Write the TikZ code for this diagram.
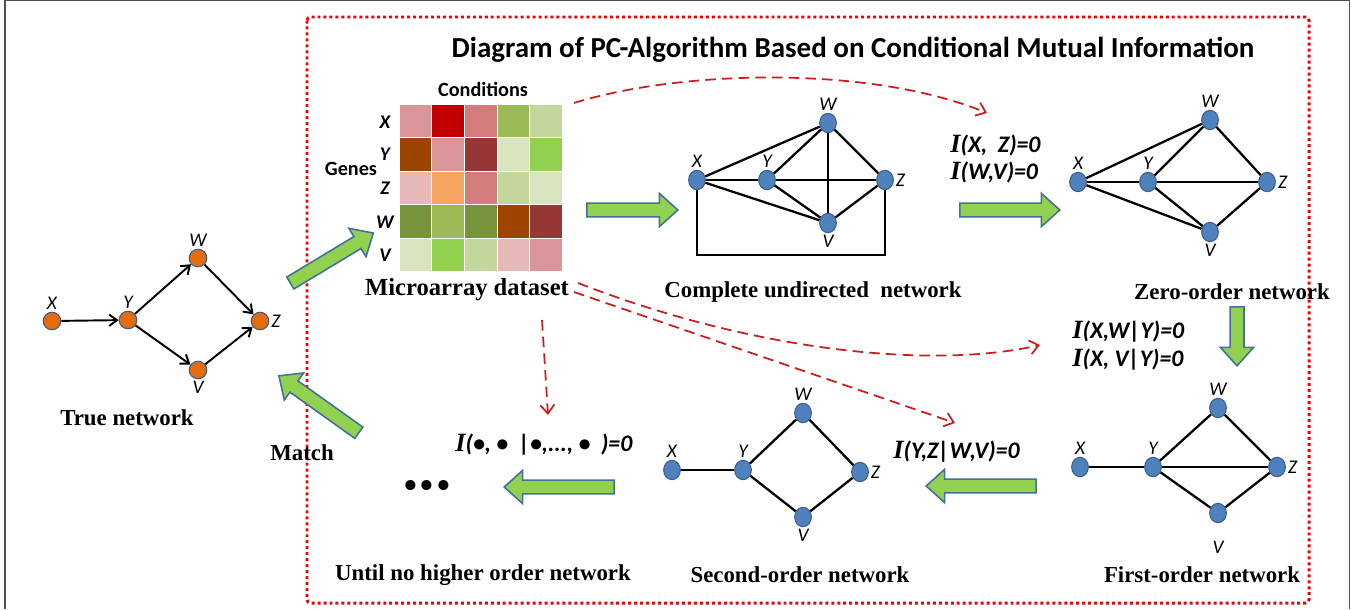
\documentclass[tikz,border=0pt]{standalone}
\usepackage{fontspec}
\setmainfont{Liberation Serif}
\newfontfamily\calibri{Carlito}
\usetikzlibrary{graphs}
\usetikzlibrary{calc}
\usetikzlibrary{arrows.meta}
\usetikzlibrary{shapes.geometric}
\usetikzlibrary{shapes.arrows}
\definecolor{nodeblue}{HTML}{4F81BD}
\definecolor{nodeline}{HTML}{3A5F8C}
\definecolor{nodeorange}{HTML}{E46C0A}
\definecolor{gfill}{HTML}{92D050}
\definecolor{gline}{HTML}{41719C}
\definecolor{dashred}{HTML}{C81E1E}
\definecolor{framered}{HTML}{F00000}
\definecolor{framegray}{HTML}{505050}
\definecolor{hmpink}{HTML}{D9959A}
\definecolor{hmred}{HTML}{C00000}
\definecolor{hmrose}{HTML}{D27C7C}
\definecolor{hmolive}{HTML}{9BBB59}
\definecolor{hmlgreen}{HTML}{C3D69B}
\definecolor{hmbrown}{HTML}{9C4400}
\definecolor{hmdred}{HTML}{953735}
\definecolor{hmvlgreen}{HTML}{D7E4BD}
\definecolor{hmgreen}{HTML}{92D050}
\definecolor{hmlpink}{HTML}{E6B9B8}
\definecolor{hmorange}{HTML}{F4A460}
\definecolor{hmdgreen}{HTML}{77933C}
\newcommand{\tI}{{\rmfamily\bfseries\itshape\fontsize{15}{16}\selectfont I}}
\tikzset{
  gnode/.style= {draw=nodeline, fill=nodeblue, ellipse, inner sep=0, minimum width=9.5pt, minimum height=11pt, line width=0.6pt},
  onode/.style= {draw=nodeline, fill=nodeorange, circle, inner sep=0, minimum size=10pt, line width=0.6pt},
  lab/.style= {font=\calibri\itshape\fontsize{11}{13}\selectfont, inner sep=1pt},
  hlab/.style= {font=\calibri\bfseries\itshape\fontsize{11}{13}\selectfont, inner sep=0},
  hhead/.style= {font=\calibri\bfseries\fontsize{11.5}{13}\selectfont, inner sep=0},
  netcap/.style= {font=\bfseries\fontsize{13}{15}\selectfont, inner sep=0},
  ci/.style= {font=\calibri\bfseries\itshape\fontsize{13.5}{16}\selectfont, inner sep=0, anchor=west},
  diagtitle/.style= {font=\calibri\bfseries\fontsize{16.5}{19}\selectfont, inner sep=0},
  netedge/.style= {line width=1.3pt, black},
  diredge/.style= {line width=1.1pt, black, >={Straight Barb[length=4.5pt,width=6.5pt]}},
  garrow/.style= {single arrow, draw=gline, fill=gfill, line width=0.9pt, inner sep=0, inner ysep=3.5pt, single arrow head extend=5.5pt, single arrow tip angle=84, anchor=center},
  redarrow/.style= {dashred, line width=1pt, dash pattern=on 6pt off 3.5pt, -{Straight Barb[length=5pt,width=8pt]}},
  redframe/.style= {framered, line width=1.7pt, dash pattern=on 1.7pt off 1.7pt, rounded corners=2pt},
  outerframe/.style= {framegray, line width=0.9pt},
}
\begin{document}
\begin{tikzpicture}[x=0.02cm, y=-0.02cm]
  \useasboundingbox (0,0) rectangle (1354,609);
  \draw [outerframe] (5,609) -- (5,0.5) -- (1349.5,0.5) -- (1349.5,609);
  \draw [redframe] (307,17) rectangle (1309,603);
  \node [diagtitle] (title) at (853,50) {Diagram of PC-Algorithm Based on Conditional Mutual Information};

  \node [onode, label={[lab]above:X}] (tX) at (52,321) {};
  \node [onode, label={[lab]above:Y}] (tY) at (128,320) {};
  \node [onode, label={[lab]above:W}] (tW) at (198,258) {};
  \node [onode, label={[lab]right:Z}] (tZ) at (260,321) {};
  \node [onode, label={[lab]below:V}] (tV) at (198,370) {};
  \graph [edges=diredge] {
    (tX) -> (tY) -> (tW) -> (tZ) ;
    (tY) -> (tV) -> (tZ) ;
  } ;
  \node [netcap] (tcap) at (127,418) {True network};
  \node [netcap] (match) at (302,453) {Match};

  \foreach \row [count=\r from 0] in {{hmpink,hmred,hmrose,hmolive,hmlgreen},{hmbrown,hmpink,hmdred,hmvlgreen,hmgreen},{hmlpink,hmorange,hmrose,hmlgreen,hmvlgreen},{hmdgreen,hmolive,hmdgreen,hmbrown,hmdred},{hmvlgreen,hmgreen,hmlgreen,hmlpink,hmpink}}
    \foreach \cell [count=\k from 0] in \row
      \filldraw [fill=\cell, draw=white, line width=0.6pt] ({399+32.7*\k},{104+33.6*\r}) rectangle ++(32.7,33.6);
  \foreach \g/\yy in {X/122,Y/154,Z/188,W/222,V/255}
    \node [hlab] (g\g) at (385,\yy) {\g};
  \node [hhead] (conds) at (483,89) {Conditions};
  \node [hhead] (genes) at (351,169) {Genes};
  \node [netcap, font=\bfseries\fontsize{14}{16}\selectfont] (mcap) at (467,290) {Microarray dataset};

  \node [gnode, label={[lab]above:X}] (cX) at (697,180) {};
  \node [gnode, label={[lab]above:Y}] (cY) at (767,180) {};
  \node [gnode, label={[lab]above:W}] (cW) at (828,123) {};
  \node [gnode, label={[lab]right:Z}] (cZ) at (885,180) {};
  \node [gnode, label={[lab]below:V}] (cV) at (828,223) {};
  \coordinate (cb) at (0,255);
  \graph [edges=netedge] {
    (cX) -- (cY) -- (cZ) ;
    (cX) -- (cW) -- (cZ) -- (cV) -- (cX) ;
    (cY) -- (cW) -- (cV) -- (cY) ;
  } ;
  \draw [netedge] (cX) -- (cX |- cb) -- (cZ |- cb) -- (cZ);
  \node [netcap] (ccap) at (813,292) {Complete undirected\ \ network};

  \node [ci] (i1) at (950,145) {\tI(X,\ \ Z)=0};
  \node [ci] (i2) at (950,172) {\tI(W,V)=0};

  \node [gnode, label={[lab]above:X}] (zX) at (1078,182) {};
  \node [gnode, label={[lab]above:Y}] (zY) at (1148,182) {};
  \node [gnode, label={[lab]above:W}] (zW) at (1210,120) {};
  \node [gnode, label={[lab]right:Z}] (zZ) at (1267,182) {};
  \node [gnode, label={[lab]below:V}] (zV) at (1210,232) {};
  \graph [edges=netedge] {
    (zX) -- (zW) -- (zZ) -- (zV) -- (zX) ;
    (zX) -- (zY) -- (zZ) ;
    (zW) -- (zY) -- (zV) ;
  } ;
  \node [netcap] (zcap) at (1232,292) {Zero-order network};

  \node [ci] (i3) at (1072,332) {\tI(X,W|Y)=0};
  \node [ci] (i4) at (1072,360) {\tI(X, V|Y)=0};

  \node [gnode, label={[lab]above:X}] (fX) at (1080,467) {};
  \node [gnode, label={[lab]above:Y}] (fY) at (1153,467) {};
  \node [gnode, label={[lab]above:W}] (fW) at (1218,408) {};
  \node [gnode, label={[lab]right:Z}] (fZ) at (1277,467) {};
  \node [gnode, label={[lab, label distance=9pt]below:V}] (fV) at (1218,513) {};
  \graph [edges=netedge] {
    (fX) -- (fY) -- (fZ) ;
    (fY) -- (fW) -- (fZ) ;
    (fY) -- (fV) -- (fZ) ;
  } ;
  \node [netcap] (fcap) at (1202,575) {First-order network};

  \node [ci] (i5) at (893,452) {\tI(Y,Z|W,V)=0};

  \node [gnode, label={[lab]above:X}] (sX) at (672,470) {};
  \node [gnode, label={[lab]above:Y}] (sY) at (743,470) {};
  \node [gnode, label={[lab]above:W}] (sW) at (803,413) {};
  \node [gnode, label={[lab]right:Z}] (sZ) at (860,472) {};
  \node [gnode, label={[lab]below:V}] (sV) at (803,517) {};
  \graph [edges=netedge] {
    (sX) -- (sY) -- (sW) -- (sZ) -- (sV) -- (sY) ;
  } ;
  \node [netcap] (scap) at (800,575) {Second-order network};

  \node [ci] (i6) at (455,445) {\tI(•, •\ \ |•,..., •\ \ )=0};
  \node [font=\fontsize{24}{26}\selectfont, inner sep=0] (dots) at (427,490) {•\kern1pt•\kern1pt•};
  \node [netcap] (ucap) at (483,575) {Until no higher order network};

  \coordinate (ga1) at (287,285);  \coordinate (gb1) at (370,235);
  \coordinate (ga2) at (583,210);  \coordinate (gb2) at (674,210);
  \coordinate (ga3) at (956,210);  \coordinate (gb3) at (1056,210);
  \coordinate (ga4) at (1237,303); \coordinate (gb4) at (1237,362);
  \coordinate (ga5) at (1040,486); \coordinate (gb5) at (930,486);
  \coordinate (ga6) at (618,487);  \coordinate (gb6) at (508,487);
  \coordinate (ga7) at (362,435);  \coordinate (gb7) at (282,378);
  \foreach \a/\b in {ga1/gb1,ga2/gb2,ga3/gb3,ga4/gb4,ga5/gb5,ga6/gb6,ga7/gb7}
    \path let \p1=($(\b)-(\a)$) in
      node [garrow, minimum height={veclen(\x1,\y1)}, rotate={atan2(\y1,\x1)}] at ($(\a)!0.5!(\b)$) {};

  \coordinate (d1) at (574,103);
  \coordinate (d2) at (578,283);
  \coordinate (d3) at (574,292);
  \coordinate (d4) at (542,320);
  \coordinate (e1) at (987,113);
  \coordinate (e2) at (1040,345);
  \coordinate (e3) at (955,423);
  \coordinate (e4) at (548,415);
  \draw [redarrow] (d1) .. controls (680,70) and (870,65) .. (e1);
  \draw [redarrow] (d2) .. controls (750,350) and (930,370) .. (e2);
  \draw [redarrow] (d3) -- (e3);
  \draw [redarrow] (d4) -- (e4);
\end{tikzpicture}
\end{document}
